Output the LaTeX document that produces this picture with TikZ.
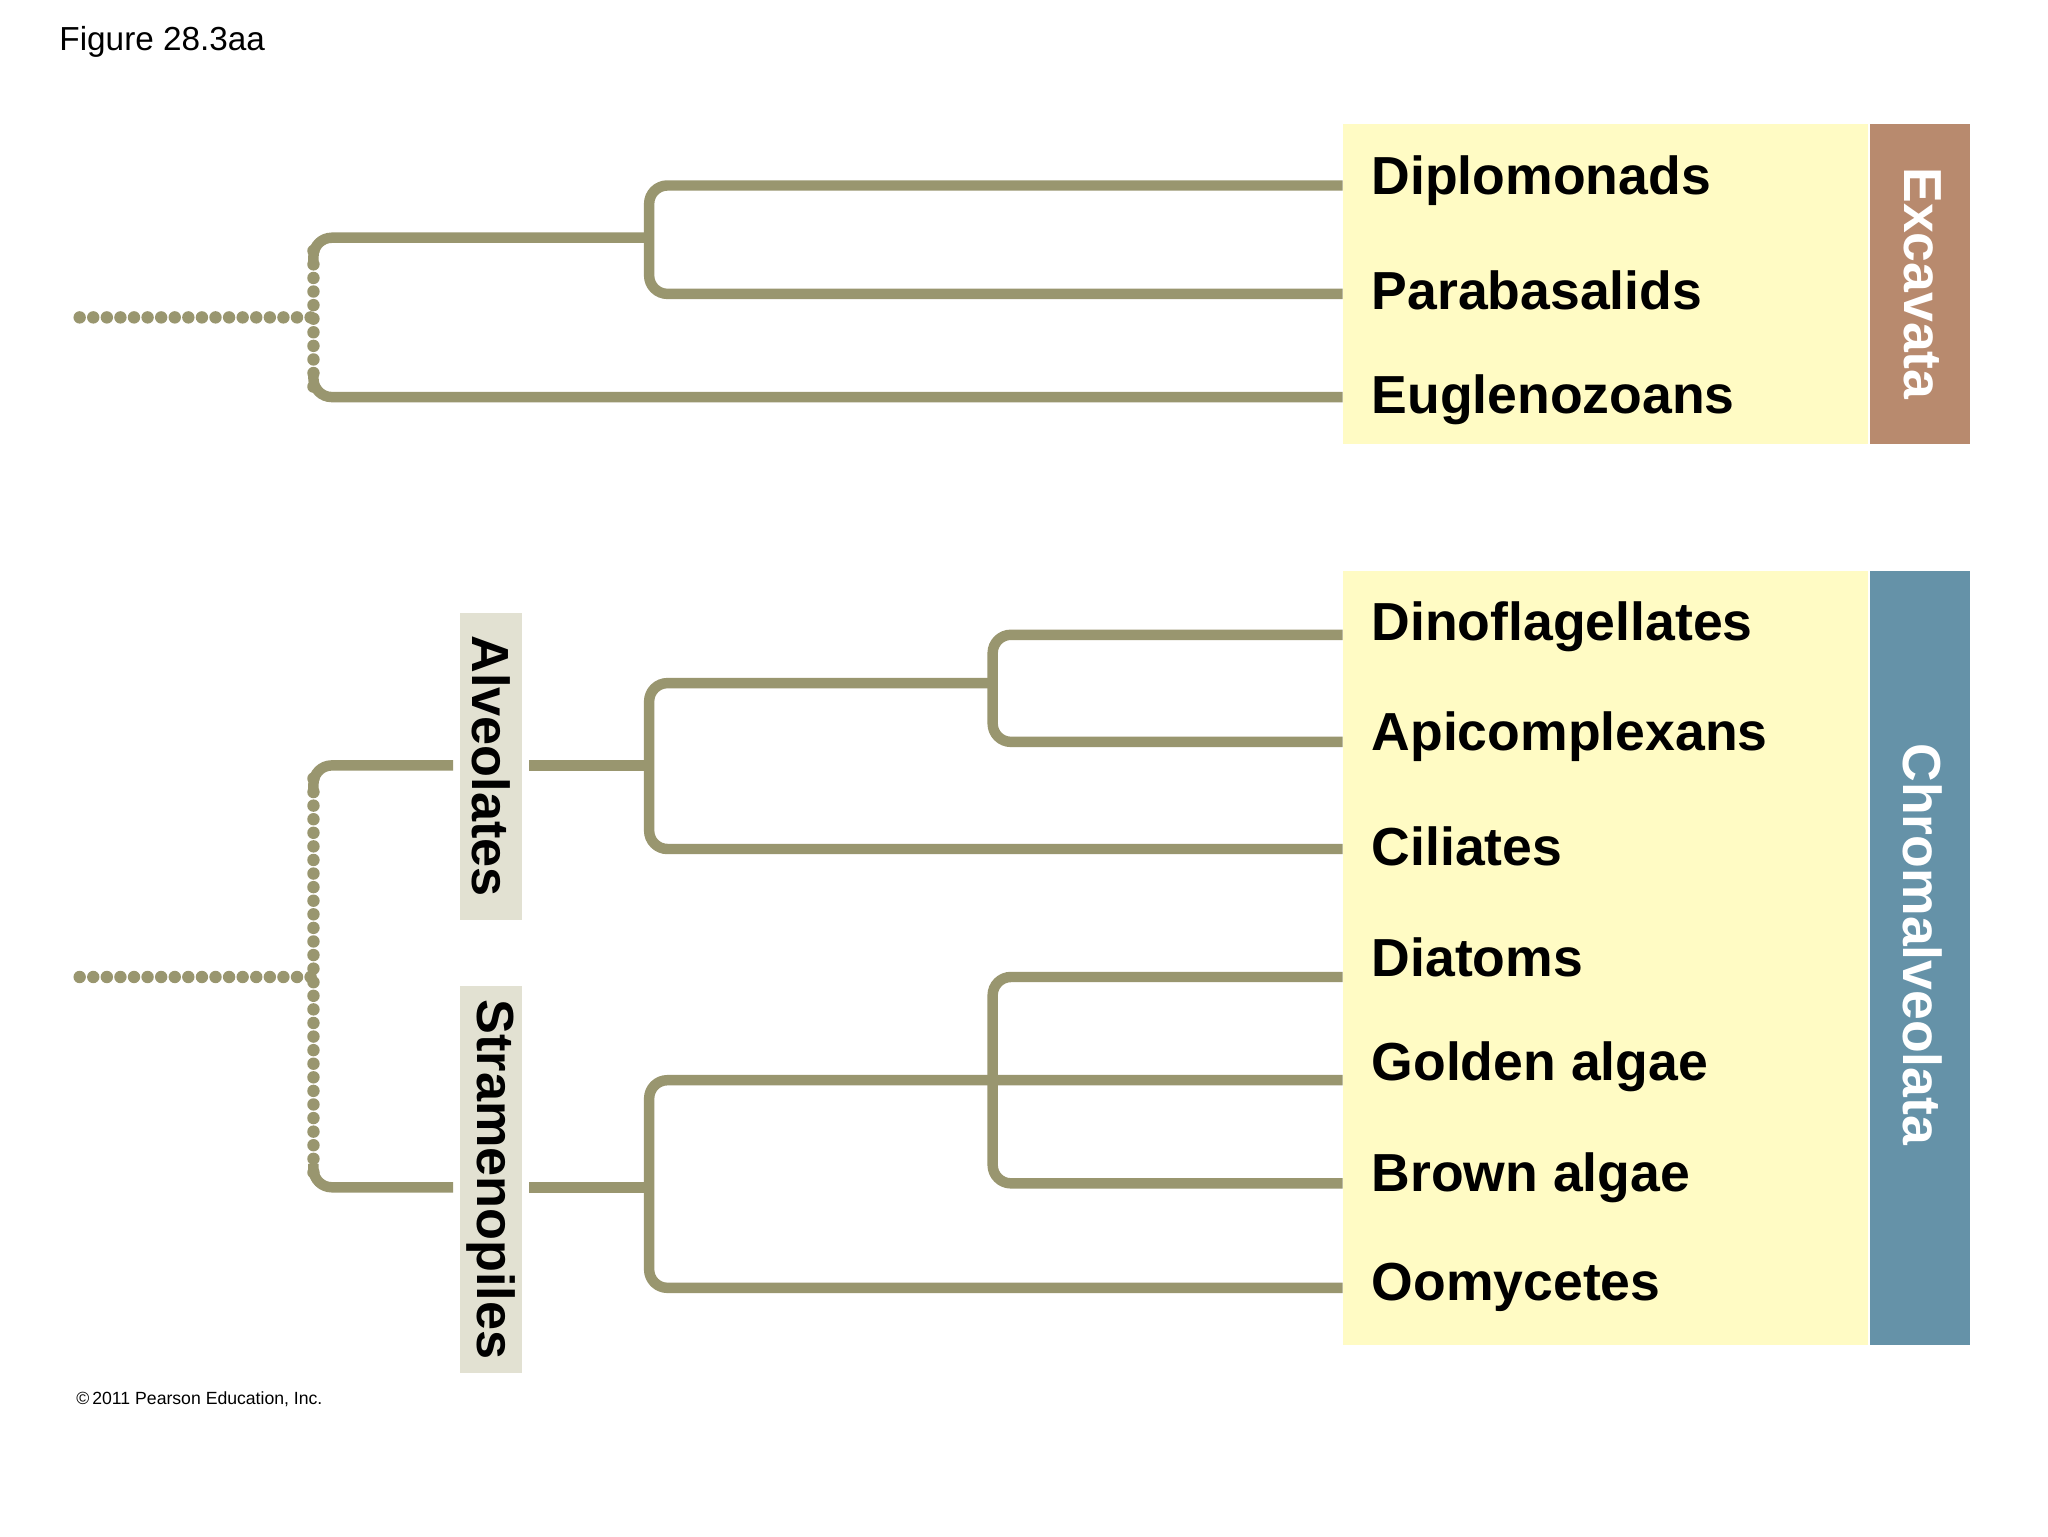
\documentclass[tikz,border=0pt]{standalone}
\usepackage{fontspec}
\setmainfont{Liberation Sans}
\begin{document}
\begin{tikzpicture}[x=1pt,y=-1pt,
  br/.style={draw=lineC,line width=8,rounded corners=14},
  dot/.style={draw=lineC,line width=9.5,line cap=round,dash pattern=on 0pt off 10.4pt},
  leaf/.style={anchor=west,font=\bfseries\fontsize{41}{44}\selectfont,inner sep=0},
  grp/.style={fill=grpC,inner sep=0,font=\bfseries\fontsize{40}{44}\selectfont,rotate=-90}]
\definecolor{lineC}{HTML}{99966F}
\definecolor{yel}{HTML}{FFFBC4}
\definecolor{brn}{HTML}{B88A6E}
\definecolor{blu}{HTML}{6592A8}
\definecolor{grpC}{HTML}{E2E1D2}
\useasboundingbox (0,0) rectangle (1568,1176);
\fill[white] (0,0) rectangle (1568,1176);
\node[anchor=west,font=\fontsize{25.5}{28}\selectfont] (fig) at (42,32) {Figure 28.3aa};
\node[anchor=west,font=\fontsize{13.5}{15}\selectfont] (cp) at (55,1071) {\copyright\,2011 Pearson Education, Inc.};
% boxes
\fill[yel] (1028,95) rectangle (1430,340);
\fill[brn] (1432,95) rectangle (1508,340);
\node[rotate=-90,text=white,font=\bfseries\fontsize{41}{44}\selectfont] (exc) at (1472,217) {Excavata};
\fill[yel] (1028,437) rectangle (1430,1030);
\fill[blu] (1432,437) rectangle (1508,1030);
\node[rotate=-90,text=white,font=\bfseries\fontsize{41}{44}\selectfont] (chr) at (1472,723) {Chromalveolata};
% leaves
\foreach \n/\t/\y in {d1/Diplomonads/138,d2/Parabasalids/222,d3/Euglenozoans/306,
  c1/Dinoflagellates/480,c2/Apicomplexans/564,c3/Ciliates/648,c4/Diatoms/733,
  c5/Golden algae/817,c6/Brown algae/902,c7/Oomycetes/986}
  \node[leaf] (\n) at (1050,\y) {\t};
% Excavata tree
\coordinate (e1) at (1028,142); \coordinate (e2) at (1028,225); \coordinate (e3) at (1028,304);
\draw[br] (e1) -- (497,142) -- (497,225) -- (e2);
\coordinate (ej) at (497,182);
\draw[br] (ej) -- (240,182) -- (240,200);
\draw[br] (240,286) -- (240,304) -- (e3);
\draw[dot] (240,192) -- (240,296);
\draw[dot] (61,243) -- (240,243);
% Alveolates
\coordinate (a1) at (1028,486); \coordinate (a2) at (1028,568); \coordinate (a3) at (1028,650);
\draw[br] (a1) -- (760,486) -- (760,568) -- (a2);
\coordinate (aj) at (760,523);
\draw[br] (aj) -- (497,523) -- (497,650) -- (a3);
\coordinate (aj2) at (497,586);
\draw[br] (aj2) -- (405,586);
\draw[br] (347,586) -- (240,586) -- (240,604);
% Stramenopiles
\coordinate (s1) at (1028,748); \coordinate (s2) at (1028,827); \coordinate (s3) at (1028,906); \coordinate (s4) at (1028,986);
\draw[br] (s1) -- (760,748) -- (760,906) -- (s3);
\draw[br] (s2) -- (497,827) -- (497,986) -- (s4);
\coordinate (sj) at (497,909);
\draw[br] (sj) -- (405,909);
\draw[br] (347,909) -- (240,909) -- (240,891);
\draw[dot] (240,596) -- (240,899);
\draw[dot] (61,748) -- (240,748);
% group labels
\node[grp,minimum width=235,minimum height=48] (alv) at (376,586.5) {Alveolates};
\node[grp,minimum width=296,minimum height=48] (str) at (376,903) {Stramenopiles};
\end{tikzpicture}
\end{document}
